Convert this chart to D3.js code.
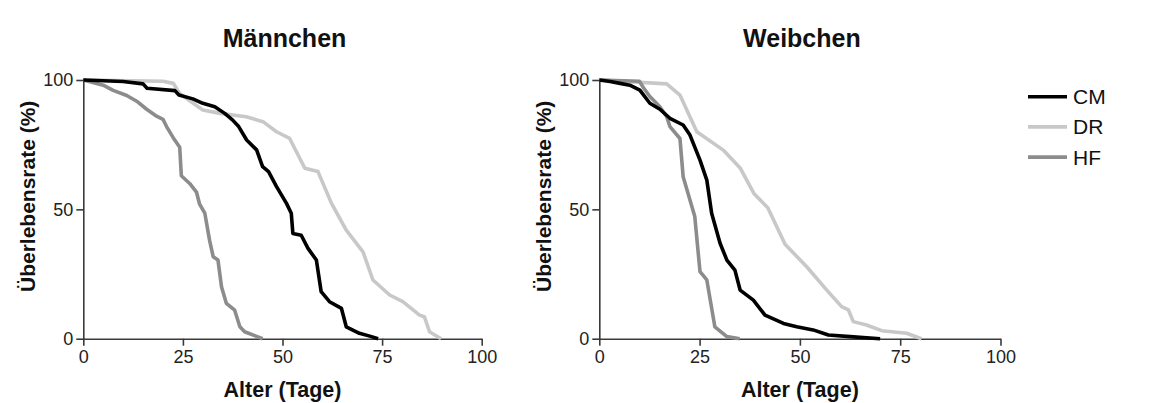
<!DOCTYPE html>
<html>
<head>
<meta charset="utf-8">
<script src="https://cdn.jsdelivr.net/npm/d3@7"></script>
<style>
  html, body { margin: 0; padding: 0; background: #fff; }
  svg { display: block; font-family: "Liberation Sans", Arial, Helvetica, sans-serif; }
</style>
</head>
<body>
<svg id="chart" width="1160" height="403"></svg>
<script>
// ---- data ----
const panelTitles = ["Männchen", "Weibchen"];
const seriesNames = ["CM", "DR", "HF"];
const xTicks = [0, 25, 50, 75, 100];
const yTicks = [0, 50, 100];
const xLabel = "Alter (Tage)";
const yLabel = "Überlebensrate (%)";

// Männchen
const maleCM_days = [0,10,15,16,23,24,27.5,30,33,35.5,37.5,39,41,43.5,45,46.5,48.5,51,52.2,52.6,54.7,56.4,58.5,59.7,61.8,64.8,66,69.3,71.9,74];
const maleCM_surv = [100,99.4,98.5,96.8,95.9,94.2,92.7,91,89.7,87.1,84.5,82,76.8,73,66.5,64.6,58.8,52.3,48.5,40.7,40,34.9,30.4,18.2,14.3,11.7,4.6,2.1,1,0];
const maleDR_days = [0,20,22.6,24.2,27.6,30,34.3,40.9,45.1,48.5,51.8,55.6,58.9,62.3,66,70.2,72.7,76.9,80.2,84.4,85.6,86.9,89.8];
const maleDR_surv = [100,99.5,98.7,94.8,91,88.4,87.1,85.8,83.9,80,77.4,65.9,64.6,52.3,42,33.6,22.7,16.9,14.3,9.1,8.5,2.7,0];
const maleHF_days = [0,5,7.5,10.9,13.4,15.9,18.4,20,20.9,22.6,24.2,24.6,26.7,28.4,29.2,30.5,31.7,32.6,33.8,34.7,35.9,38,39.3,40.5,45];
const maleHF_surv = [100,98,96,94,91.8,88.7,86,84.8,82,77.6,74,63,60,56.7,52,48.5,38,31.7,30.4,20,13.7,11,4.6,2.7,0];

// Weibchen
const femaleCM_days = [0,2.7,5.2,7.6,10.1,12.6,15.1,17.6,20.9,22.6,25.1,26.8,28,30.1,31.8,33.8,35.1,38.4,41.3,45.9,49.2,53.3,57.1,62.5,70];
const femaleCM_surv = [100,99.4,98.7,98,96.1,91,88.7,85.2,82.6,78.7,69,61.3,48.5,36.9,30.4,26.5,18.8,14.9,9.1,5.9,4.6,3.4,1.4,0.8,0];
const femaleDR_days = [0,16.8,20.1,24.3,30.9,35.1,38.6,42,46.3,51.7,56.7,60.4,62.1,63.3,66.6,70.4,76.6,80.3];
const femaleDR_surv = [100,98.5,94.2,80,72.9,66,56,50.6,36.5,27.8,18.8,12.4,11.1,6.6,5.3,3.1,2.1,0];
const femaleHF_days = [0,10,11,12.6,15.1,16.8,17.6,20.1,20.9,22.6,23.8,25.1,26.8,28.8,31.8,35];
const femaleHF_surv = [100,99.5,97,93.6,89.7,85.8,82,77.4,62.6,53.6,47.2,25.9,22.7,4.6,0.8,0];

// ---- build ----
const zip = (a, b) => a.map((d, i) => ({ x: d, y: b[i] }));
const panels = [
  { title: panelTitles[0], x0: 83.3, x1: 481.7, series: {
      CM: zip(maleCM_days, maleCM_surv), DR: zip(maleDR_days, maleDR_surv), HF: zip(maleHF_days, maleHF_surv) } },
  { title: panelTitles[1], x0: 599.3, x1: 1000.5, series: {
      CM: zip(femaleCM_days, femaleCM_surv), DR: zip(femaleDR_days, femaleDR_surv), HF: zip(femaleHF_days, femaleHF_surv) } }
];
const colors = { CM: "#000000", DR: "#c8c8c8", HF: "#8c8c8c" };
const drawOrder = ["DR", "HF", "CM"];
const yTop = 80, yBottom = 338.7;
const axisColor = "#3a3a3a";

const svg = d3.select("#chart");
svg.append("rect").attr("width", 1160).attr("height", 403).attr("fill", "#fff");

panels.forEach(p => {
  const x = d3.scaleLinear().domain([0, 100]).range([p.x0, p.x1]);
  const y = d3.scaleLinear().domain([0, 100]).range([yBottom, yTop]);
  const g = svg.append("g");

  const xAxis = g.append("g").attr("transform", `translate(0,${yBottom})`)
    .call(d3.axisBottom(x).tickValues(xTicks).tickSize(7).tickPadding(5).tickSizeOuter(0));
  const yAxis = g.append("g").attr("transform", `translate(${p.x0},0)`)
    .call(d3.axisLeft(y).tickValues(yTicks).tickSize(7).tickPadding(3).tickSizeOuter(0));
  [xAxis, yAxis].forEach(a => {
    a.select(".domain").attr("stroke", axisColor).attr("stroke-width", 1.6);
    a.selectAll(".tick line").attr("stroke", axisColor).attr("stroke-width", 1.6);
    a.selectAll(".tick text").attr("fill", "#222").attr("font-size", "18px")
      .attr("font-family", "'Liberation Sans', Arial, sans-serif");
  });

  const line = d3.line().x(d => x(d.x)).y(d => y(d.y));
  drawOrder.forEach(name => {
    g.append("path").datum(p.series[name])
      .attr("d", line).attr("fill", "none")
      .attr("stroke", colors[name]).attr("stroke-width", 3.6)
      .attr("stroke-linejoin", "round").attr("stroke-linecap", "butt");
  });

  const cx = (p.x0 + p.x1) / 2;
  g.append("text").attr("x", cx + 2).attr("y", 46.5).attr("text-anchor", "middle")
    .attr("font-size", "25px").attr("font-weight", "bold").attr("fill", "#111").text(p.title);
  g.append("text").attr("x", cx).attr("y", 397).attr("text-anchor", "middle")
    .attr("font-size", "21.5px").attr("font-weight", "bold").attr("fill", "#111").text(xLabel);
  g.append("text").attr("transform", `translate(${p.x0 - 48.5},${(yTop + yBottom) / 2 - 13}) rotate(-90)`)
    .attr("text-anchor", "middle").attr("font-size", "21px").attr("font-weight", "bold")
    .attr("fill", "#111").text(yLabel);
});

// legend
const legend = svg.append("g");
seriesNames.forEach((name, i) => {
  const ly = 96.7 + i * 30.2;
  legend.append("line").attr("x1", 1028).attr("x2", 1067).attr("y1", ly).attr("y2", ly)
    .attr("stroke", colors[name]).attr("stroke-width", 3.6);
  legend.append("text").attr("x", 1073).attr("y", ly).attr("dy", "0.36em")
    .attr("font-size", "21px").attr("fill", "#111").text(name);
});
</script>
</body>
</html>
